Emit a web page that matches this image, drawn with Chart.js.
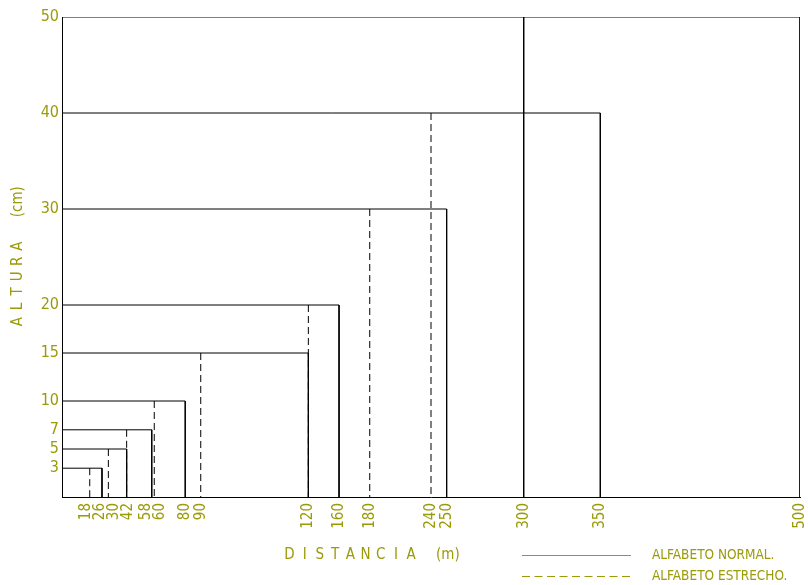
<!DOCTYPE html>
<html lang="es">
<head>
<meta charset="UTF-8">
<title>Altura de letra según distancia</title>
<script src="https://cdn.jsdelivr.net/npm/chart.js"></script>
<style>
  body { margin: 0; background: #fff; }
  canvas { display: block; }
</style>
</head>
<body>
<canvas id="grafico" width="808" height="585"></canvas>
<script>
// altura de letra (cm) y distancia de lectura (m) para cada alfabeto
const alturas = [3, 5, 7, 10, 15, 20, 30, 40, 50];
const distNormal = [26, 42, 58, 80, 120, 160, 250, 350, 500];
const distEstrecho = [18, 30, 42, 60, 90, 120, 180, 240, 300];

const marcasX = [18, 26, 30, 42, 58, 60, 80, 90, 120, 160, 180, 240, 250, 300, 350, 500];
const marcasY = [3, 5, 7, 10, 15, 20, 30, 40, 50];

const tituloX = "DISTANCIA", unidadX = "(m)";
const tituloY = "ALTURA", unidadY = "(cm)";
const leyenda = ["ALFABETO NORMAL.", "ALFABETO ESTRECHO."];

// el eje x del plano no es lineal: [distancia, posición sobre una regla 0..500]
const reglaX = [
  [0, 0], [18, 18.8], [26, 27.1], [30, 31.4], [42, 43.8], [58, 60.8], [60, 62.5],
  [80, 83.5], [90, 94.0], [120, 166.9], [160, 187.7], [180, 208.5],
  [240, 250.0], [250, 260.6], [300, 312.8], [350, 364.7], [500, 500]
];

const OLIVA = "#9b9b0a";
const FUENTE = "'DejaVu Sans Condensed', 'Liberation Sans', sans-serif";
const SEP_ETIQUETAS = 14; // separación mínima entre etiquetas giradas (px)

function tramo(v, de, a) {
  for (let i = 1; i < reglaX.length; i++) {
    const p = reglaX[i - 1], q = reglaX[i];
    if (v <= q[de] || i === reglaX.length - 1) {
      const t = (v - p[de]) / (q[de] - p[de]);
      return p[a] + t * (q[a] - p[a]);
    }
  }
  return v;
}

// separa etiquetas que se pisan, centrando cada grupo sobre sus marcas
function separar(pos, sep) {
  let grupos = pos.map(p => ({ ini: 0, n: 1, suma: p }));
  grupos.forEach((g, i) => { g.ini = i; });
  const centro = g => g.suma / g.n;
  const desde = g => centro(g) - (g.n - 1) * sep / 2;
  let cambio = true;
  while (cambio) {
    cambio = false;
    for (let i = 1; i < grupos.length; i++) {
      const a = grupos[i - 1], b = grupos[i];
      if (desde(a) + a.n * sep > desde(b) + 0.01) {
        a.n += b.n; a.suma += b.suma;
        grupos.splice(i, 1);
        cambio = true;
        break;
      }
    }
  }
  const out = [];
  grupos.forEach(g => { for (let k = 0; k < g.n; k++) out.push(desde(g) + k * sep); });
  return out;
}

class EscalaTramos extends Chart.LinearScale {
  getPixelForValue(v) {
    return v === null ? NaN : super.getPixelForValue(tramo(v, 0, 1));
  }
  getValueForPixel(px) {
    return tramo(super.getValueForPixel(px), 1, 0);
  }
  getPixelForTick(index) {
    const px = this.ticks.map(t => this.getPixelForValue(t.value));
    return separar(px, SEP_ETIQUETAS)[index];
  }
}
EscalaTramos.id = "tramos";
EscalaTramos.defaults = Chart.LinearScale.defaults;
Chart.register(EscalaTramos);

const datasets = [];
alturas.forEach((h, i) => {
  datasets.push({
    data: [{ x: 0, y: h }, { x: distNormal[i], y: h }, { x: distNormal[i], y: 0 }],
    borderColor: "#000", borderWidth: 1, pointRadius: 0, fill: false
  });
  const ultimo = i === alturas.length - 1;
  datasets.push({
    data: [{ x: distEstrecho[i], y: h }, { x: distEstrecho[i], y: 0 }],
    borderColor: "#000", borderWidth: 1, pointRadius: 0, fill: false,
    borderDash: ultimo ? [] : [7, 4]
  });
});

// textos espaciados de los ejes y leyenda
const rotulos = {
  id: "rotulos",
  afterDraw(chart) {
    const ctx = chart.ctx;
    ctx.save();
    ctx.fillStyle = OLIVA;
    ctx.font = "15px " + FUENTE;
    ctx.textBaseline = "middle";
    ctx.textAlign = "center";

    // título eje x
    for (let i = 0; i < tituloX.length; i++) ctx.fillText(tituloX[i], 289.5 + i * 15.2, 555);
    ctx.textAlign = "left";
    ctx.fillText(unidadX, 436, 555);

    // título eje y (girado)
    ctx.save();
    ctx.translate(18, 0);
    ctx.rotate(-Math.PI / 2);
    ctx.textAlign = "center";
    for (let i = 0; i < tituloY.length; i++) ctx.fillText(tituloY[i], -(321.7 - i * 15.1), 0);
    ctx.fillText(unidadY, -201.7, 0);
    ctx.restore();

    // leyenda
    ctx.strokeStyle = OLIVA;
    ctx.lineWidth = 1;
    ctx.beginPath();
    ctx.moveTo(522, 555.5); ctx.lineTo(631, 555.5);
    ctx.stroke();
    ctx.setLineDash([8, 4.5]);
    ctx.beginPath();
    ctx.moveTo(522, 576.5); ctx.lineTo(631, 576.5);
    ctx.stroke();
    ctx.setLineDash([]);
    ctx.font = "13.5px " + FUENTE;
    ctx.textAlign = "left";
    ctx.fillText(leyenda[0], 652, 555);
    ctx.fillText(leyenda[1], 652, 576);
    ctx.restore();
  }
};

new Chart(document.getElementById("grafico"), {
  type: "line",
  data: { datasets },
  options: {
    responsive: false,
    animation: false,
    layout: { padding: { top: 17, right: 8, bottom: 0, left: 0 } },
    plugins: { legend: { display: false }, tooltip: { enabled: false } },
    scales: {
      x: {
        type: "tramos",
        min: 0, max: 500,
        grid: { display: false, drawTicks: false },
        border: { display: true, color: "#000", width: 1 },
        ticks: {
          color: OLIVA, font: { family: FUENTE, size: 15 },
          autoSkip: false, minRotation: 90, maxRotation: 90, padding: 6
        },
        afterBuildTicks: s => { s.ticks = marcasX.map(v => ({ value: v })); },
        afterFit: s => { s.height = 88; s.paddingLeft = 0; s.paddingRight = 0; }
      },
      y: {
        type: "linear",
        min: 0, max: 50,
        grid: { display: false, drawTicks: false },
        border: { display: true, color: "#000", width: 1 },
        ticks: { color: OLIVA, font: { family: FUENTE, size: 16 }, padding: 3 },
        afterBuildTicks: s => { s.ticks = marcasY.map(v => ({ value: v })); },
        afterFit: s => { s.width = 62; }
      }
    }
  },
  plugins: [rotulos]
});
</script>
</body>
</html>
